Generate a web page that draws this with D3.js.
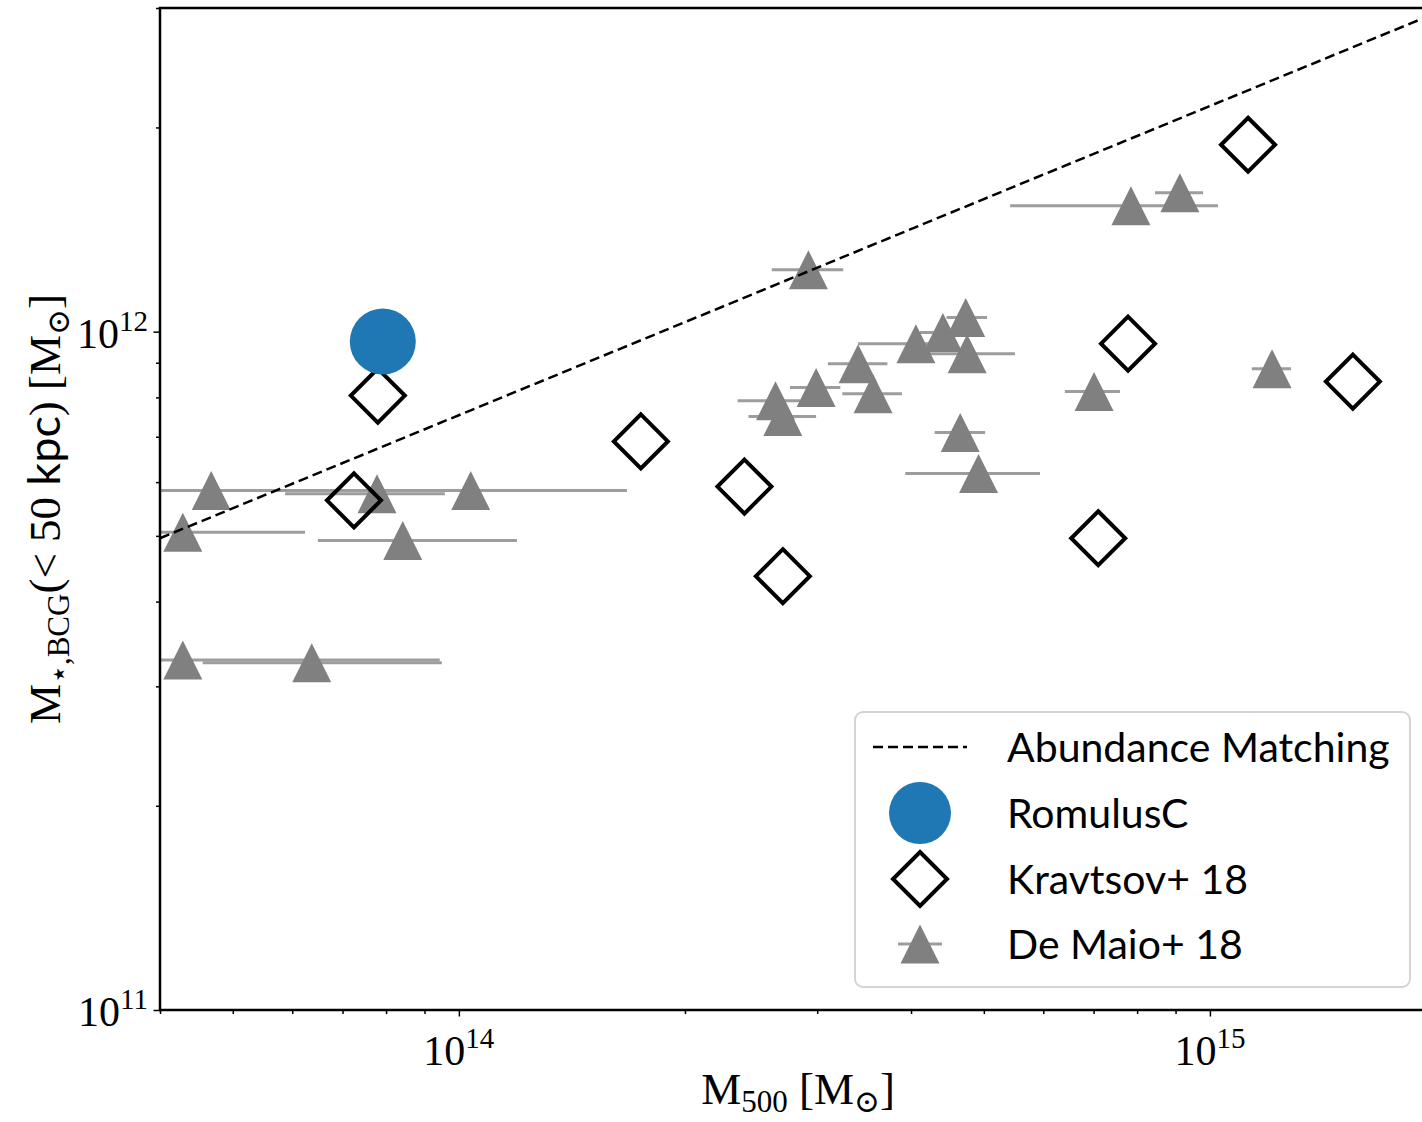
<!doctype html>
<html lang="en">
<head>
<meta charset="utf-8">
<title>BCG stellar mass vs M500</title>
<script src="https://cdnjs.cloudflare.com/ajax/libs/d3/7.8.5/d3.min.js"></script>
<style>
    body { margin: 0; background: #fff; }
    .serif { font-family: "Liberation Serif", "DejaVu Serif", serif; fill: #000; }
    .sans { font-family: "Lato", "DejaVu Sans", sans-serif; fill: #000; }
</style>
</head>
<body>
<div id="chart"></div>
<script>

// De Maio+ 18 : M500, BCG stellar mass, and the x error range
var dmM500  = [4.68e13, 7.78e13, 1.037e14, 4.29e13, 8.42e13, 4.29e13, 6.37e13, 2.92e14, 4.73e14, 4.41e14, 4.06e14, 4.75e14,
               3.40e14, 3.56e14, 2.99e14, 2.64e14, 2.70e14, 4.65e14, 4.92e14, 7.01e14, 7.85e14, 9.12e14, 1.21e15];
var dmMstar = [5.83e11, 5.77e11, 5.83e11, 5.06e11, 4.92e11, 3.28e11, 3.25e11, 1.234e12, 1.049e12, 9.97e11, 9.60e11, 9.28e11,
               8.97e11, 8.10e11, 8.27e11, 7.91e11, 7.50e11, 7.10e11, 6.18e11, 8.16e11, 1.533e12, 1.602e12, 8.82e11];
var dmLo    = [3.76e13, 5.87e13, 5.08e13, 3.88e13, 6.49e13, 3.88e13, 4.56e13, 2.61e14, 4.46e14, 4.11e14, 3.40e14, 4.10e14,
               3.10e14, 3.24e14, 2.76e14, 2.35e14, 2.43e14, 4.30e14, 3.93e14, 6.41e14, 5.42e14, 8.45e14, 1.137e15];
var dmHi    = [9.49e13, 9.58e13, 1.674e14, 6.24e13, 1.195e14, 9.43e13, 9.49e13, 3.25e14, 5.05e14, 4.60e14, 4.28e14, 5.50e14,
               3.72e14, 3.89e14, 3.22e14, 2.85e14, 2.99e14, 5.02e14, 5.94e14, 7.59e14, 1.025e15, 9.79e14, 1.282e15];

// Kravtsov+ 18
var kvM500  = [1.124e15, 7.78e14, 1.55e15, 7.80e13, 7.25e13, 1.747e14, 2.40e14, 2.70e14, 7.10e14];
var kvMstar = [1.886e12, 9.60e11, 8.44e11, 8.05e11, 5.64e11, 6.89e11, 5.91e11, 4.36e11, 4.96e11];

// RomulusC
var romM500  = [7.92e13];
var romMstar = [9.67e11];

// Abundance matching relation
var amM500  = [4e13, 2e15];
var amMstar = [4.96e11, 2.95e12];

// ticks
var xMajor = [1e14, 1e15];
var yMajor = [1e11, 1e12];
var xMinor = [4e13, 5e13, 6e13, 7e13, 8e13, 9e13, 2e14, 3e14, 4e14, 5e14, 6e14, 7e14, 8e14, 9e14, 2e15];
var yMinor = [2e11, 3e11, 4e11, 5e11, 6e11, 7e11, 8e11, 9e11, 2e12, 3e12];

var legendLabels = ["Abundance Matching", "RomulusC", "Kravtsov+ 18", "De Maio+ 18"];

(function () {

    var width = 1422, height = 1122;
    var pLeft = 160, pTop = 8, pBottom = 1010, pRight = 1436;

    var x = d3.scaleLog().domain([4e13, 2e15]).range([pLeft, pRight]);
    var y = d3.scaleLog().domain([1e11, 3e12]).range([pBottom, pTop]);

    var svg = d3.select("#chart")
        .append("svg")
          .attr("width", width)
          .attr("height", height);

    svg.append("defs").append("clipPath")
        .attr("id", "plotClip")
      .append("rect")
        .attr("x", pLeft).attr("y", pTop)
        .attr("width", pRight - pLeft).attr("height", pBottom - pTop);

    var plot = svg.append("g").attr("clip-path", "url(#plotClip)");

    var triPath = "M0,-19.5L19.5,19.5L-19.5,19.5Z";
    var diaPath = "M0,-27L27,0L0,27L-27,0Z";
    var idx = d3.range(dmM500.length);

    // error bars under the markers
    plot.selectAll("line.err")
        .data(idx)
        .enter()
        .append("line")
          .attr("class", "err")
          .attr("x1", function(i) { return x(dmLo[i]); })
          .attr("x2", function(i) { return x(dmHi[i]); })
          .attr("y1", function(i) { return y(dmMstar[i]); })
          .attr("y2", function(i) { return y(dmMstar[i]); })
          .attr("stroke", "#9d9d9d")
          .attr("stroke-width", 3);

    plot.selectAll("path.tri")
        .data(idx)
        .enter()
        .append("path")
          .attr("class", "tri")
          .attr("d", triPath)
          .attr("transform", function(i) { return "translate(" + x(dmM500[i]) + "," + y(dmMstar[i]) + ")"; })
          .attr("fill", "#808080");

    // abundance matching line
    var amLine = d3.line()
        .x(function(d) { return x(d[0]); })
        .y(function(d) { return y(d[1]); });

    plot.append("path")
        .datum(d3.zip(amM500, amMstar))
        .attr("d", amLine)
        .attr("fill", "none")
        .attr("stroke", "#000")
        .attr("stroke-width", 2.5)
        .attr("stroke-dasharray", "10,5");

    plot.selectAll("path.dia")
        .data(d3.zip(kvM500, kvMstar))
        .enter()
        .append("path")
          .attr("class", "dia")
          .attr("d", diaPath)
          .attr("transform", function(d) { return "translate(" + x(d[0]) + "," + y(d[1]) + ")"; })
          .attr("fill", "none")
          .attr("stroke", "#000")
          .attr("stroke-width", 4);

    plot.selectAll("circle.rom")
        .data(d3.zip(romM500, romMstar))
        .enter()
        .append("circle")
          .attr("class", "rom")
          .attr("cx", function(d) { return x(d[0]); })
          .attr("cy", function(d) { return y(d[1]); })
          .attr("r", 33)
          .attr("fill", "#1f77b4");

    // axes: ticks from d3 axes, spines drawn by hand
    function tickAxis(axis, vals, size, transform) {
        var g = svg.append("g")
            .attr("transform", transform)
            .call(axis.tickValues(vals).tickSize(size).tickFormat(""));
        g.select(".domain").remove();
        g.selectAll("line").attr("stroke", "#000").attr("stroke-width", 1.5);
    }
    tickAxis(d3.axisBottom(x), xMinor, 4, "translate(0," + pBottom + ")");
    tickAxis(d3.axisBottom(x), xMajor, 6.5, "translate(0," + pBottom + ")");
    tickAxis(d3.axisLeft(y), yMinor, 4, "translate(" + pLeft + ",0)");
    tickAxis(d3.axisLeft(y), yMajor, 6.5, "translate(" + pLeft + ",0)");

    svg.append("path")
        .attr("d", "M" + pLeft + "," + pTop + "V" + pBottom + "H" + pRight + "V" + pTop + "Z")
        .attr("fill", "none")
        .attr("stroke", "#000")
        .attr("stroke-width", 2.5);

    function powLabel(sel) {
        sel.append("tspan").text("10");
        sel.append("tspan")
            .attr("dy", -17)
            .attr("font-size", 29)
            .text(function(d) { return Math.round(Math.log10(d)); });
    }

    svg.selectAll("text.xt")
        .data(xMajor)
        .enter()
        .append("text")
          .attr("class", "xt serif")
          .attr("x", function(d) { return x(d); })
          .attr("y", 1065)
          .attr("text-anchor", "middle")
          .attr("font-size", 42)
          .call(powLabel);

    svg.selectAll("text.yt")
        .data(yMajor)
        .enter()
        .append("text")
          .attr("class", "yt serif")
          .attr("x", 148)
          .attr("y", function(d) { return y(d) + 16; })
          .attr("text-anchor", "end")
          .attr("font-size", 42)
          .call(powLabel);

    // axis labels
    var xl = svg.append("text")
        .attr("class", "serif")
        .attr("x", (pLeft + pRight) / 2)
        .attr("y", 1104)
        .attr("text-anchor", "middle")
        .attr("font-size", 45);
    xl.append("tspan").text("M");
    xl.append("tspan").attr("dy", 8).attr("font-size", 31).text("500");
    xl.append("tspan").attr("dy", -8).text(" [M");
    xl.append("tspan").attr("dy", 8).attr("font-size", 31).text("\u2299");
    xl.append("tspan").attr("dy", -8).text("]");

    var yl = svg.append("text")
        .attr("class", "serif")
        .attr("transform", "translate(60," + ((pTop + pBottom) / 2) + ") rotate(-90)")
        .attr("text-anchor", "middle")
        .attr("font-size", 45);
    yl.append("tspan").text("M");
    yl.append("tspan").attr("dy", 9).attr("font-size", 31).text("\u22c6,BCG");
    yl.append("tspan").attr("dy", -9).text("(< 50 ");
    yl.append("tspan").attr("class", "sans").text("kpc");
    yl.append("tspan").text(") [M");
    yl.append("tspan").attr("dy", 9).attr("font-size", 31).text("\u2299");
    yl.append("tspan").attr("dy", -9).text("]");

    // legend
    var legend = svg.append("g").attr("transform", "translate(855,712)");
    legend.append("rect")
        .attr("x", 0).attr("y", 0)
        .attr("width", 555).attr("height", 275)
        .attr("rx", 8)
        .attr("fill", "#fff")
        .attr("fill-opacity", 0.8)
        .attr("stroke", "#d4d4d4")
        .attr("stroke-width", 2);

    var rowY = [35, 101, 167, 232];
    var mx = 65;

    legend.append("line")
        .attr("x1", 18).attr("x2", 112)
        .attr("y1", rowY[0]).attr("y2", rowY[0])
        .attr("stroke", "#000")
        .attr("stroke-width", 2.5)
        .attr("stroke-dasharray", "10,5");
    legend.append("circle")
        .attr("cx", mx).attr("cy", rowY[1]).attr("r", 31)
        .attr("fill", "#1f77b4");
    legend.append("path")
        .attr("d", diaPath)
        .attr("transform", "translate(" + mx + "," + rowY[2] + ")")
        .attr("fill", "none")
        .attr("stroke", "#000")
        .attr("stroke-width", 4);
    legend.append("line")
        .attr("x1", mx - 22).attr("x2", mx + 22)
        .attr("y1", rowY[3]).attr("y2", rowY[3])
        .attr("stroke", "#9d9d9d")
        .attr("stroke-width", 3);
    legend.append("path")
        .attr("d", triPath)
        .attr("transform", "translate(" + mx + "," + rowY[3] + ")")
        .attr("fill", "#808080");

    legend.selectAll("text.leg")
        .data(legendLabels)
        .enter()
        .append("text")
          .attr("class", "leg sans")
          .attr("x", 152)
          .attr("y", function(d, i) { return rowY[i] + 15; })
          .attr("font-size", 41)
          .text(function(d) { return d; });

})();

</script>
</body>
</html>
